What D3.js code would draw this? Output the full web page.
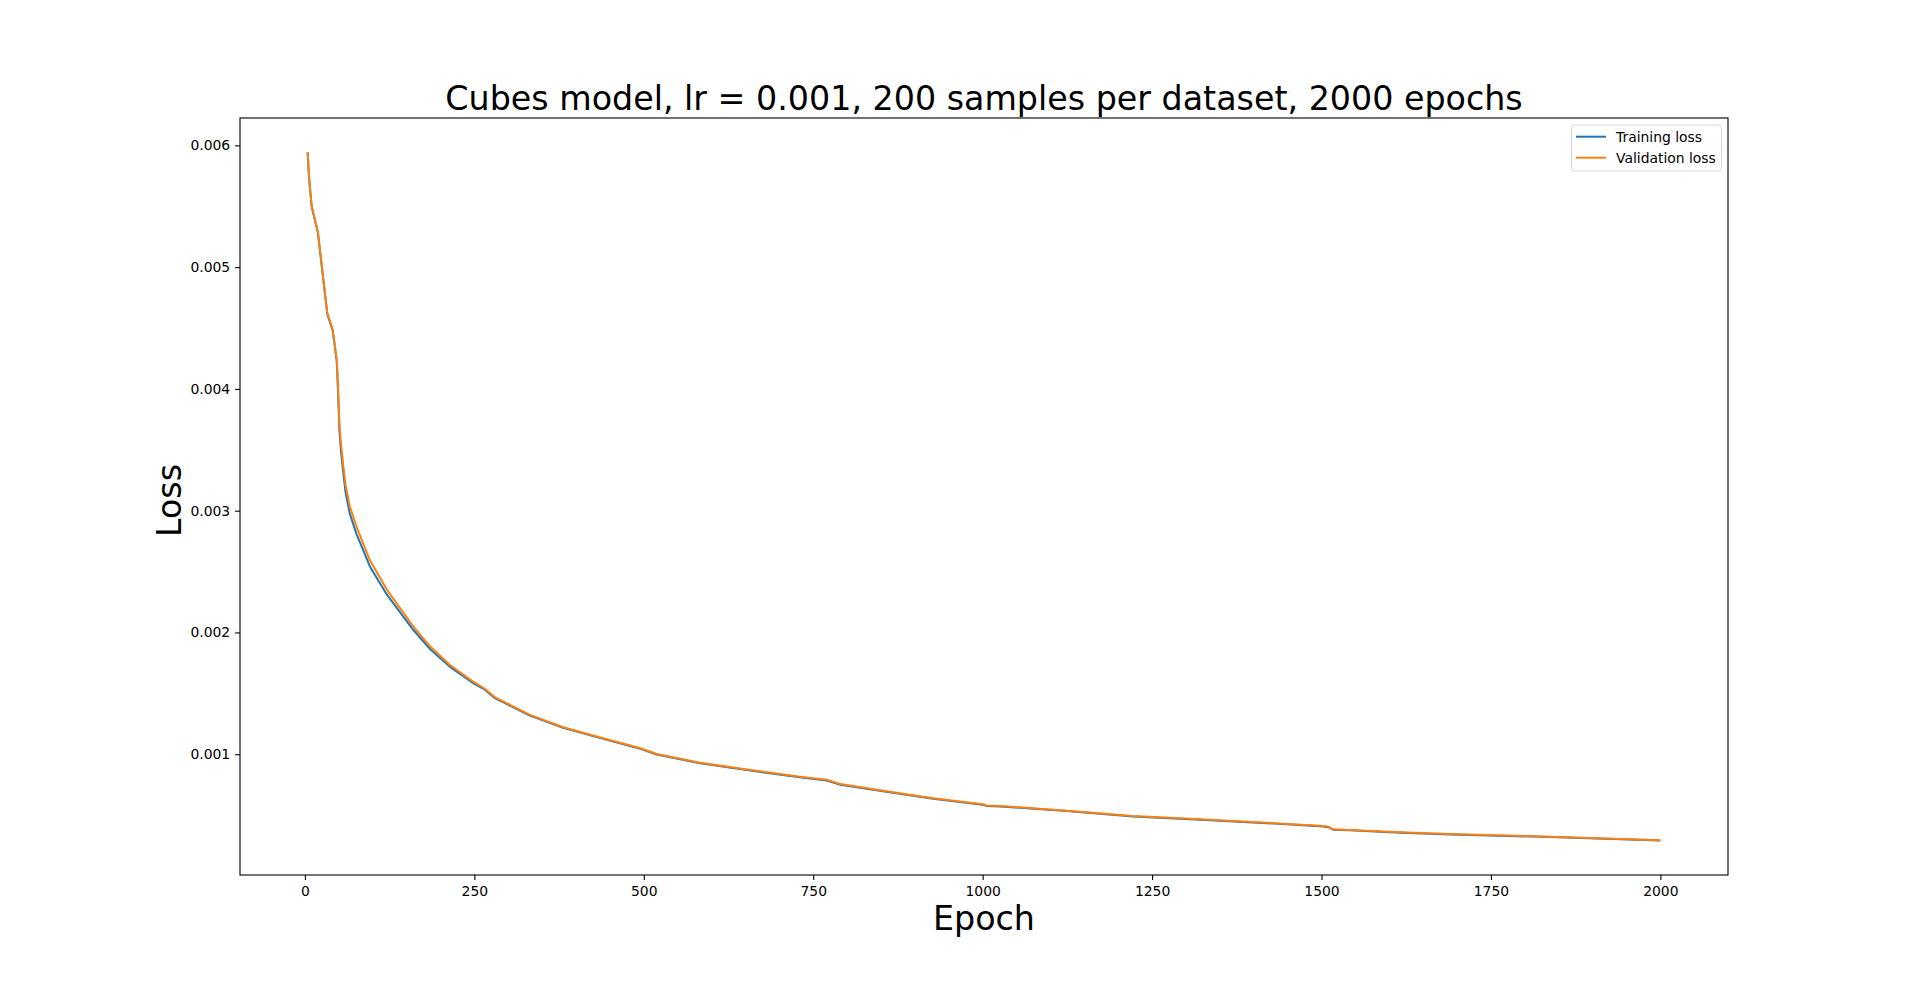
<!DOCTYPE html>
<html>
<head>
<meta charset="utf-8">
<script src="https://cdn.jsdelivr.net/npm/d3@7"></script>
<style>
  body { margin: 0; background: #fff; }
  text { font-family: "DejaVu Sans", sans-serif; fill: #000; }
</style>
</head>
<body>
<div id="chart-area"></div>
<script>
// values
const epochs = [4, 6, 10, 19, 25, 33, 41, 47, 49, 51, 53, 57, 60, 66, 76, 96, 121, 160, 185, 214, 248,
    265, 280, 293, 332, 381, 440, 495, 519, 583, 657, 730, 770, 790, 853, 927, 1000, 1005, 1026,
    1124, 1222, 1321, 1419, 1503, 1510, 1517, 1542, 1616, 1690, 1837, 2000];
const validationLoss = [0.005942, 0.005745, 0.005499, 0.005293, 0.005006, 0.004623, 0.004486, 0.004239,
    0.003993, 0.003700, 0.003560, 0.003350, 0.003210, 0.003040, 0.002870, 0.002590, 0.002350, 0.002048,
    0.001884, 0.001733, 0.001596, 0.001540, 0.001470, 0.001432, 0.001323, 0.001222, 0.001131, 0.001049,
    0.001002, 0.000931, 0.000871, 0.000816, 0.000790, 0.000755, 0.000701, 0.000639, 0.000590, 0.000580,
    0.000575, 0.000537, 0.000493, 0.000466, 0.000438, 0.000411, 0.000405, 0.000384, 0.000378, 0.000359,
    0.000345, 0.000323, 0.000293];
const trainingLoss = [0.005942, 0.005740, 0.005494, 0.005288, 0.005000, 0.004615, 0.004478, 0.004225,
    0.003960, 0.003650, 0.003500, 0.003290, 0.003150, 0.002980, 0.002810, 0.002540, 0.002310, 0.002020,
    0.001862, 0.001718, 0.001585, 0.001532, 0.001462, 0.001426, 0.001318, 0.001217, 0.001126, 0.001044,
    0.000997, 0.000926, 0.000866, 0.000811, 0.000785, 0.000750, 0.000696, 0.000634, 0.000585, 0.000576,
    0.000571, 0.000533, 0.000489, 0.000462, 0.000434, 0.000407, 0.000401, 0.000381, 0.000375, 0.000356,
    0.000342, 0.000320, 0.000291];
const xTicks = [0, 250, 500, 750, 1000, 1250, 1500, 1750, 2000];
const yTicks = [0.001, 0.002, 0.003, 0.004, 0.005, 0.006];
const seriesNames = ['Training loss', 'Validation loss'];
const colors = ['#1f77b4', '#ff7f0e'];

const margin = {left: 240, right: 192, top: 118, bottom: 108};
const width = 1920 - margin.left - margin.right;
const height = 983 - margin.top - margin.bottom;

const svg = d3.select('#chart-area')
    .append('svg')
        .attr('width', 1920)
        .attr('height', 983);

const g = svg.append('g')
    .attr('transform', `translate(${margin.left}, ${margin.top})`);

// matplotlib style 5% padding on both axes
const xMin = d3.min(epochs), xMax = d3.max(epochs);
const xPad = (xMax - xMin) * 0.05;
const x = d3.scaleLinear()
    .domain([xMin - xPad, xMax + xPad])
    .range([0, width]);

const allLoss = trainingLoss.concat(validationLoss);
const yMin = d3.min(allLoss), yMax = d3.max(allLoss);
const yPad = (yMax - yMin) * 0.05;
const y = d3.scaleLinear()
    .domain([yMin - yPad, yMax + yPad])
    .range([height, 0]);

// axes
const xAxisCall = d3.axisBottom(x)
    .tickValues(xTicks)
    .tickFormat(d3.format('d'))
    .tickSize(4.9)
    .tickSizeOuter(0)
    .tickPadding(4.9);
const xAxis = g.append('g')
    .attr('class', 'x axis')
    .attr('transform', `translate(0, ${height})`)
    .call(xAxisCall);

const yAxisCall = d3.axisLeft(y)
    .tickValues(yTicks)
    .tickFormat(d3.format('.3f'))
    .tickSize(4.9)
    .tickSizeOuter(0)
    .tickPadding(4.9);
const yAxis = g.append('g')
    .attr('class', 'y axis')
    .call(yAxisCall);

[xAxis, yAxis].forEach(ax => {
    ax.select('.domain').remove();
    ax.selectAll('line').attr('stroke', '#000').attr('stroke-width', 1.1);
    ax.selectAll('text')
        .attr('font-size', '13.9px')
        .attr('font-family', '"DejaVu Sans", sans-serif')
        .attr('fill', '#000');
});
xAxis.selectAll('text').attr('dy', '0.8em');

// lines
const data = [trainingLoss, validationLoss];
const line = d3.line()
    .x((d, i) => x(epochs[i]))
    .y(d => y(d));

g.selectAll('path.series')
    .data(data)
    .enter()
    .append('path')
        .attr('class', 'series')
        .attr('d', line)
        .attr('fill', 'none')
        .attr('stroke', (d, i) => colors[i])
        .attr('stroke-width', 2)
        .attr('stroke-linejoin', 'round');

// frame
g.append('rect')
    .attr('width', width)
    .attr('height', height)
    .attr('fill', 'none')
    .attr('stroke', '#000')
    .attr('stroke-width', 1.1);

// title
g.append('text')
    .attr('x', width / 2)
    .attr('y', -8)
    .attr('font-size', '33.3px')
    .attr('text-anchor', 'middle')
    .text('Cubes model, lr = 0.001, 200 samples per dataset, 2000 epochs');

// X Label
g.append('text')
    .attr('x', width / 2)
    .attr('y', height + 55)
    .attr('font-size', '33.3px')
    .attr('text-anchor', 'middle')
    .text('Epoch');

// Y Label
g.append('text')
    .attr('x', -(height / 2) - 4)
    .attr('y', -59)
    .attr('font-size', '33.3px')
    .attr('text-anchor', 'middle')
    .attr('transform', 'rotate(-90)')
    .text('Loss');

// legend
const legend = g.append('g')
    .attr('transform', `translate(${width - 156.5}, 7)`);
legend.append('rect')
    .attr('width', 150)
    .attr('height', 46)
    .attr('rx', 2.8)
    .attr('fill', 'rgba(255,255,255,0.8)')
    .attr('stroke', '#d6d6d6')
    .attr('stroke-width', 1);

const rows = legend.selectAll('g.row')
    .data(seriesNames)
    .enter()
    .append('g')
        .attr('class', 'row')
        .attr('transform', (d, i) => `translate(0, ${11.7 + i * 21})`);
rows.append('line')
    .attr('x1', 4.5)
    .attr('x2', 34.5)
    .attr('stroke', (d, i) => colors[i])
    .attr('stroke-width', 2);
rows.append('text')
    .attr('x', 44.5)
    .attr('y', 4.8)
    .attr('font-size', '13.9px')
    .text(d => d);
</script>
</body>
</html>
